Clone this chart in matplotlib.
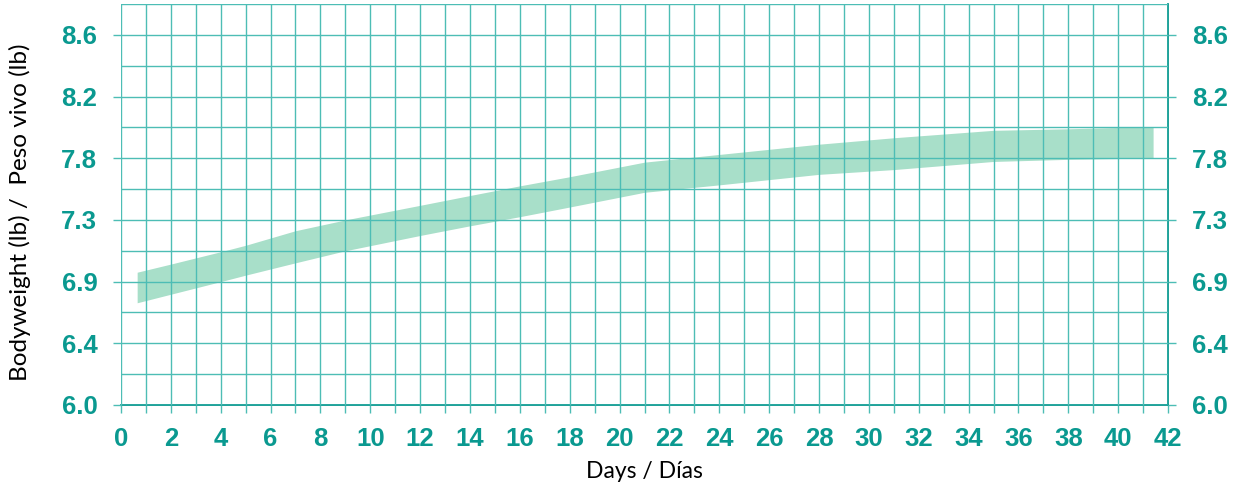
import numpy as np
import matplotlib
matplotlib.use("Agg")
import matplotlib.pyplot as plt
from matplotlib.font_manager import FontProperties

# band of expected bodyweight (lb) by day
days = [0.65, 2, 4, 5, 7, 9, 12, 14, 16, 18, 21, 24, 28, 31, 35, 38, 41.4]
upper = [6.947, 7.005, 7.093, 7.139, 7.243, 7.320, 7.424, 7.494, 7.563, 7.628,
         7.732, 7.787, 7.860, 7.906, 7.959, 7.970, 7.985]
lower = [6.729, 6.790, 6.880, 6.926, 7.014, 7.100, 7.209, 7.278, 7.343, 7.412,
         7.517, 7.570, 7.645, 7.679, 7.737, 7.752, 7.762]

x_ticks = list(range(0, 43, 2))
y_ticks = [6.00, 6.44, 6.88, 7.32, 7.76, 8.20, 8.64]
y_labels = ["6.0", "6.4", "6.9", "7.3", "7.8", "8.2", "8.6"]

TEAL = "#0a9990"
GRID = "#4dbdb5"
BAND = "#a8dfc9"

fig = plt.figure(figsize=(12.38, 4.87), dpi=100)
ax = fig.add_axes([0.0977, 0.1684, 0.8458, 0.8234])

ax.fill_between(days, lower, upper, color=BAND, linewidth=0, zorder=1)

ax.set_xlim(0, 42)
ax.set_ylim(6.0, 8.786)

ax.set_xticks(x_ticks)
ax.set_xticks(range(1, 42, 2), minor=True)
ax.set_yticks(y_ticks)
ax.set_yticklabels(y_labels)
ax.set_yticks([v + 0.22 for v in y_ticks], minor=True)

ax.grid(True, which="both", color=GRID, linewidth=1.0, zorder=2)
ax.set_axisbelow(False)

ax.spines["top"].set_visible(False)
ax.spines["left"].set_visible(False)
for s in ["bottom", "right"]:
    ax.spines[s].set_color(TEAL)
    ax.spines[s].set_linewidth(1.3)

ax.tick_params(axis="x", which="both", length=6, color=GRID, width=1.0,
               pad=10, labelcolor=TEAL)
ax.tick_params(axis="y", which="major", length=6, color=GRID, width=1.0,
               pad=11, labelcolor=TEAL, right=True, labelright=True)
ax.tick_params(axis="y", which="minor", length=0)

tick_font = FontProperties(family="Liberation Sans", weight="bold", size=18.5)
for t in ax.get_xticklabels() + ax.yaxis.get_majorticklabels():
    t.set_fontproperties(tick_font)
for tk in ax.yaxis.get_major_ticks():
    tk.label2.set_fontproperties(tick_font)

ax.set_xlabel("Days / Días", family="Lato", fontsize=16.5, color="black")
ax.xaxis.set_label_coords(0.5, -0.14)
ax.set_ylabel("Bodyweight (lb) /  Peso vivo (lb)", family="Lato", fontsize=17.5,
              color="black")
ax.yaxis.set_label_coords(-0.086, 0.48)

fig.savefig("out.png", dpi=100)
